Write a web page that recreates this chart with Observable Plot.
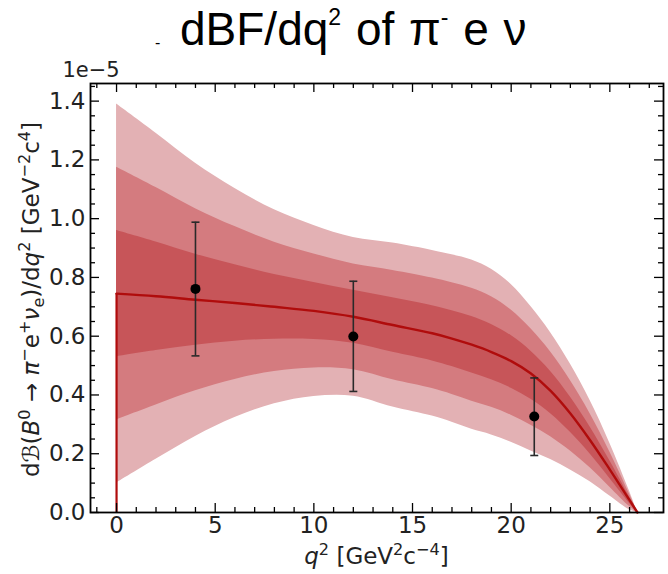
<!DOCTYPE html>
<html><head><meta charset="utf-8">
<script src="https://cdn.jsdelivr.net/npm/d3@7"></script>
<script src="https://cdn.jsdelivr.net/npm/@observablehq/plot@0.6"></script>
<style>
body{margin:0;background:#fff;}
#title{position:relative;height:55px;width:668px;font-family:"Liberation Sans",Arial,sans-serif;color:#000;}
#title .t{position:absolute;left:180px;top:6px;font-size:46px;line-height:46px;white-space:nowrap;word-spacing:2px;}
#title .t sup{font-size:0.5em;vertical-align:0.85em;line-height:0;}
#title .dash{position:absolute;left:155px;top:35px;font-size:16px;line-height:16px;}
#chart svg{display:block;}
</style></head><body>
<div id="title"><span class="dash">-</span><span class="t">dBF/dq<sup>2</sup> of π<sup>-</sup> e ν</span></div>
<div id="chart"></div>
<script>
// theory curve knots (q^2 in GeV^2) and band edges (units of 1e-5)
const q2      = [0, 2, 4, 6, 8, 10, 12, 14, 16, 17, 18, 19, 20, 21, 22, 23, 24, 25, 26, 26.4];
const central = [0.745,0.736,0.724,0.713,0.700,0.686,0.666,0.638,0.610,0.592,0.571,0.546,0.515,0.473,0.414,0.337,0.246,0.146,0.042,0];
const hi1 = [0.960,0.921,0.879,0.843,0.810,0.783,0.756,0.731,0.704,0.687,0.667,0.640,0.602,0.549,0.480,0.393,0.291,0.176,0.052,0];
const hi2 = [1.175,1.106,1.034,0.973,0.920,0.880,0.846,0.824,0.798,0.782,0.763,0.734,0.689,0.625,0.546,0.449,0.336,0.206,0.062,0];
const hi3 = [1.390,1.291,1.189,1.103,1.030,0.977,0.936,0.917,0.892,0.877,0.859,0.828,0.776,0.701,0.612,0.505,0.381,0.236,0.072,0];
const lo1 = [0.530,0.551,0.569,0.583,0.590,0.589,0.576,0.545,0.516,0.497,0.475,0.452,0.423,0.385,0.336,0.273,0.199,0.116,0.031,0];
const lo2 = [0.315,0.366,0.414,0.453,0.480,0.492,0.486,0.452,0.422,0.402,0.379,0.358,0.331,0.297,0.258,0.209,0.152,0.086,0.020,0];
const lo3 = [0.100,0.181,0.259,0.323,0.370,0.395,0.396,0.359,0.328,0.307,0.283,0.264,0.239,0.209,0.180,0.145,0.105,0.056,0.009,0];

// measurements
const measQ  = [4, 12, 21.17];
const measV  = [0.761, 0.599, 0.327];
const measLo = [0.533, 0.412, 0.194];
const measHi = [0.988, 0.787, 0.458];

// ticks
const xMajor = [0, 5, 10, 15, 20, 25];
const yMajor = [0, 0.2, 0.4, 0.6, 0.8, 1.0, 1.2, 1.4];
const xMinor = d3.range(-1, 28).filter(v => v % 5 !== 0);
const yMinor = d3.range(0, 30).filter(i => i % 4 !== 0).map(i => i * 0.05);

const rows = q2.map((q, i) => ({q, c: central[i], lo1: lo1[i], lo2: lo2[i], lo3: lo3[i], hi1: hi1[i], hi2: hi2[i], hi3: hi3[i]}));
const meas = measQ.map((q, i) => ({q, v: measV[i], lo: measLo[i], hi: measHi[i]}));

const W = 668, H = 519, mT = 28, mB = 62, mL = 90, mR = 5;
const fh = H - mT - mB, fw = W - mL - mR;
const MAJ = 9, MIN = 5;
const FS = 23;
const capSymbol = {draw(ctx, size) { const r = Math.sqrt(size / Math.PI); ctx.moveTo(-r, 0); ctx.lineTo(r, 0); }};
const curve = "catmull-rom";
const tk = {stroke: "black", strokeWidth: 1.3};

const plot = Plot.plot({
  width: W, height: H,
  marginTop: mT, marginBottom: mB, marginLeft: mL, marginRight: mR,
  style: {fontFamily: "DejaVu Sans, sans-serif", fontSize: FS + "px", color: "#222", background: "white"},
  x: {domain: [-1.32, 27.72]},
  y: {domain: [0, 1.46]},
  marks: [
    Plot.areaY(rows, {x: "q", y1: "lo3", y2: "hi3", fill: "#e3b1b4", curve}),
    Plot.areaY(rows, {x: "q", y1: "lo2", y2: "hi2", fill: "#d47b7f", curve}),
    Plot.areaY(rows, {x: "q", y1: "lo1", y2: "hi1", fill: "#c75559", curve}),
    Plot.ruleX(rows.slice(0, 1), {x: "q", y1: 0, y2: "c", stroke: "#b00c0c", strokeWidth: 2.2}),
    Plot.line(rows, {x: "q", y: "c", stroke: "#b00c0c", strokeWidth: 2.4, curve}),
    Plot.ruleX(meas, {x: "q", y1: "lo", y2: "hi", stroke: "#2a2a2a", strokeWidth: 1.6}),
    Plot.dot(meas, {x: "q", y: "lo", symbol: capSymbol, r: 4, stroke: "#2a2a2a", strokeWidth: 1.6}),
    Plot.dot(meas, {x: "q", y: "hi", symbol: capSymbol, r: 4, stroke: "#2a2a2a", strokeWidth: 1.6}),
    Plot.dot(meas, {x: "q", y: "v", r: 5, fill: "black"}),
    // inward ticks on all four sides
    Plot.ruleX(xMajor, {x: d => d, insetTop: fh - MAJ, ...tk}),
    Plot.ruleX(xMajor, {x: d => d, insetBottom: fh - MAJ, ...tk}),
    Plot.ruleX(xMinor, {x: d => d, insetTop: fh - MIN, ...tk}),
    Plot.ruleX(xMinor, {x: d => d, insetBottom: fh - MIN, ...tk}),
    Plot.ruleY(yMajor, {y: d => d, insetRight: fw - MAJ, ...tk}),
    Plot.ruleY(yMajor, {y: d => d, insetLeft: fw - MAJ, ...tk}),
    Plot.ruleY(yMinor, {y: d => d, insetRight: fw - MIN, ...tk}),
    Plot.ruleY(yMinor, {y: d => d, insetLeft: fw - MIN, ...tk}),
    Plot.frame({stroke: "black", strokeWidth: 1.8}),
    Plot.axisX({ticks: xMajor, tickSize: 0, tickPadding: 4, label: null, tickFormat: d => String(d)}),
    Plot.axisY({ticks: yMajor, tickSize: 0, tickPadding: 5, label: null, tickFormat: d3.format(".1f")})
  ]
});
document.getElementById("chart").appendChild(plot);

// rich text labels
const svg = d3.select(plot);
function rich(sel, parts, size) {
  let shift = 0;
  for (const [s, k] of parts) {
    const target = k.sup ? -0.4 * size : k.sub ? 0.22 * size : 0;
    const t = sel.append("tspan").text(s).attr("dy", target - shift);
    shift = target;
    if (k.sup || k.sub) t.attr("font-size", size * 0.7);
    if (k.it) t.attr("font-style", "italic");
  }
}
const N = {}, I = {it: true}, S = {sup: true}, B = {sub: true};
const ylab = svg.append("text")
  .attr("transform", `translate(${mL - 51},${mT + fh / 2 + 2}) rotate(-90)`)
  .attr("text-anchor", "middle").attr("font-size", FS).attr("fill", "#222")
  .attr("font-family", "DejaVu Sans, sans-serif");
rich(ylab, [["d", N], ["ℬ", I], ["(", N], ["B", I], ["0", S], [" → ", N], ["π", I], ["−", S], ["e", N], ["+", S], ["ν", I], ["e", B], [")/d", N], ["q", I], ["2", S], [" [GeV", N], ["−2", S], ["c", N], ["4", S], ["]", N]], FS);

const xlab = svg.append("text")
  .attr("x", mL + fw / 2).attr("y", H - 10)
  .attr("text-anchor", "middle").attr("font-size", FS).attr("fill", "#222")
  .attr("font-family", "DejaVu Sans, sans-serif");
rich(xlab, [["q", I], ["2", S], [" [GeV", N], ["2", S], ["c", N], ["−4", S], ["]", N]], FS);

svg.append("text").attr("x", mL + 1).attr("y", mT - 6)
  .attr("font-size", 21).attr("fill", "#222").attr("font-family", "DejaVu Sans, sans-serif")
  .text("1e−5");
</script>
</body></html>
